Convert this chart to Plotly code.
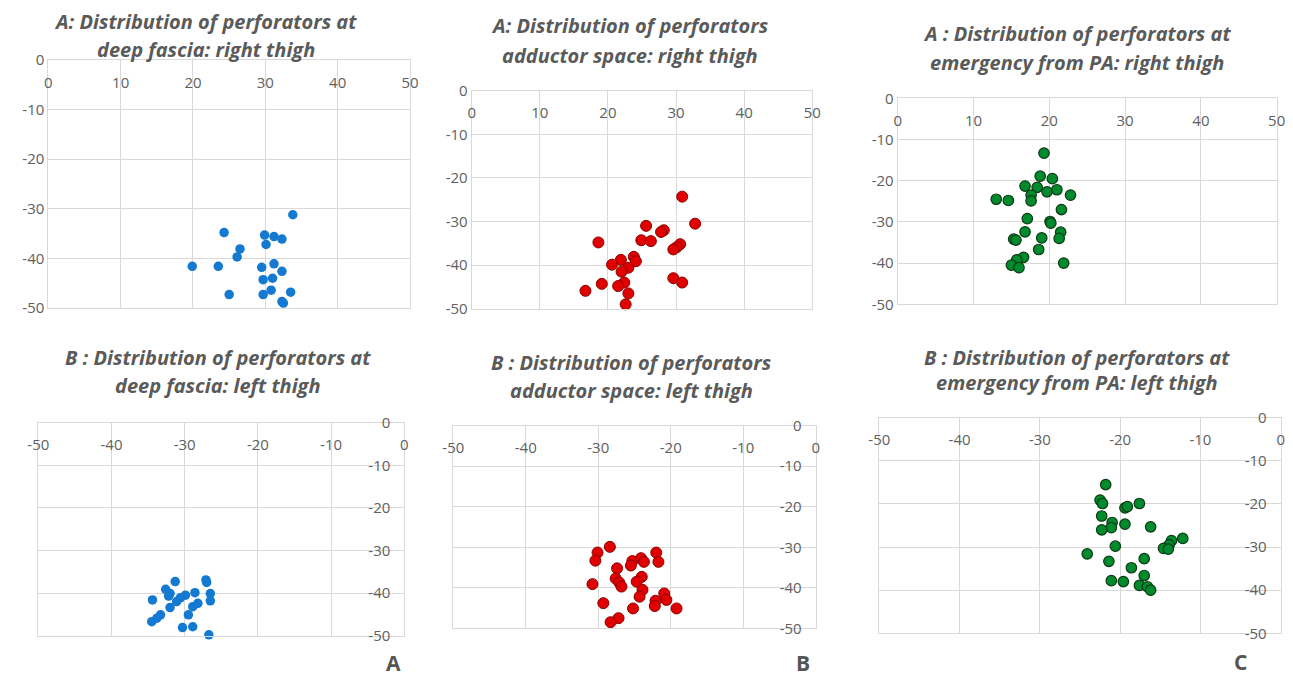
import plotly.graph_objects as go

# The page body keeps its default 8px margin, so the figure is drawn 8px
# smaller and every pixel position below is shifted by that offset.
PAGE_W, PAGE_H, OFF = 1293, 678, 8
W, H = PAGE_W - OFF, PAGE_H - OFF

# ---------------- data ----------------
# Deep fascia, right thigh (blue)
df_right_x = [33.8, 24.3, 29.9, 31.2, 32.3, 30.1, 26.5, 26.1, 19.9, 23.5, 29.5,
              31.2, 32.3, 29.7, 31.0, 30.8, 33.5, 25.0, 29.7, 32.3, 32.5]
df_right_y = [-31.2, -34.8, -35.3, -35.6, -36.1, -37.2, -38.1, -39.7, -41.6, -41.6, -41.8,
              -41.1, -42.6, -44.3, -44.0, -46.4, -46.8, -47.3, -47.3, -48.7, -49.0]

# Adductor space, right thigh (red)
ad_right_x = [30.9, 32.8, 25.6, 28.2, 27.8, 24.9, 26.3, 18.6, 30.6, 30.1, 29.6, 23.8, 24.1,
              21.9, 20.6, 23.0, 22.0, 29.6, 30.9, 19.1, 22.4, 21.5, 16.7, 23.0, 22.6]
ad_right_y = [-24.3, -30.5, -31.0, -32.0, -32.4, -34.3, -34.5, -34.8, -35.2, -35.9, -36.4, -38.1, -39.1,
              -38.8, -39.9, -40.6, -41.5, -43.0, -44.0, -44.3, -44.0, -44.8, -45.9, -46.5, -49.0]

# Emergency from PA, right thigh (green)
pa_right_x = [19.3, 18.8, 20.4, 16.8, 18.4, 19.7, 21.0, 22.8, 17.6, 17.6, 13.0, 14.6, 21.6, 17.1,
              20.1, 20.2, 16.8, 21.5, 21.3, 19.0, 15.3, 15.6, 18.6, 16.6, 15.7, 15.0, 16.0, 21.9]
pa_right_y = [-13.3, -18.9, -19.5, -21.3, -21.6, -22.7, -22.2, -23.5, -23.5, -24.9, -24.5, -24.8, -27.0, -29.2,
              -29.9, -30.3, -32.4, -32.5, -34.0, -33.9, -34.2, -34.4, -36.7, -38.6, -39.2, -40.5, -41.1, -40.0]

# Deep fascia, left thigh (blue)
df_left_x = [-27.1, -27.0, -31.3, -32.6, -32.0, -32.2, -28.6, -29.9, -30.6, -31.1, -26.5, -26.5,
             -28.2, -28.9, -32.0, -34.4, -29.5, -33.3, -33.8, -34.5, -30.3, -28.9, -26.7]
df_left_y = [-36.9, -37.5, -37.3, -39.1, -40.1, -40.7, -39.9, -40.5, -41.1, -42.0, -40.1, -41.8,
             -42.4, -43.2, -43.4, -41.6, -45.1, -45.1, -45.9, -46.7, -48.1, -47.9, -49.8]

# Adductor space, left thigh (red)
ad_left_x = [-28.4, -30.1, -30.4, -22.0, -21.7, -25.3, -25.5, -24.1, -23.7, -27.4, -27.6, -24.0, -24.7, -27.1,
             -30.8, -26.8, -23.9, -24.3, -20.9, -20.6, -22.1, -22.2, -19.2, -25.2, -29.3, -27.2, -28.3]
ad_left_y = [-29.9, -31.3, -33.3, -31.3, -33.6, -33.4, -34.5, -32.7, -33.6, -35.2, -37.7, -37.3, -38.5, -38.7,
             -39.1, -39.7, -40.5, -42.2, -41.4, -43.0, -43.2, -44.5, -45.1, -45.1, -43.8, -47.5, -48.5]

# Emergency from PA, left thigh (green)
pa_left_x = [-21.8, -22.5, -22.2, -19.4, -19.1, -17.6, -22.3, -21.0, -21.1, -19.4, -22.3, -16.2, -13.6, -12.2,
             -13.9, -14.6, -14.0, -20.6, -24.1, -21.4, -17.0, -18.6, -17.0, -21.1, -19.6, -17.6, -16.6, -16.2]
pa_left_y = [-15.5, -19.1, -19.9, -20.9, -20.6, -19.9, -22.8, -24.3, -25.5, -24.7, -26.0, -25.3, -28.5, -28.0,
             -29.5, -30.3, -30.5, -29.8, -31.6, -33.3, -32.7, -34.8, -36.6, -37.8, -38.0, -38.9, -39.2, -40.0]

titles = [
    ("A: Distribution of perforators at", "deep fascia: right thigh"),
    ("A: Distribution of perforators", "adductor space: right thigh"),
    ("A : Distribution of perforators at", "emergency from PA: right thigh"),
    ("B : Distribution of perforators at", "deep fascia: left thigh"),
    ("B : Distribution of perforators", "adductor space: left thigh"),
    ("B : Distribution of perforators at", "emergency from PA: left thigh"),
]
panel_letters = ["A", "B", "C"]

right_ticks = [0, 10, 20, 30, 40, 50]
left_ticks = [-50, -40, -30, -20, -10, 0]
y_ticks = [0, -10, -20, -30, -40, -50]


def labels(vals):
    return [str(v) for v in vals]  # plain hyphen minus like the original


# ---------------- styling / layout ----------------
# plot-area boxes in page pixels: (x0, x1, y_top, y_bottom)
boxes = [
    (48.3, 410.0, 60.0, 308.0),
    (471.7, 812.3, 90.7, 308.7),
    (897.7, 1276.7, 98.3, 304.3),
    (38.3, 404.3, 422.7, 635.7),
    (453.3, 815.7, 425.7, 628.3),
    (879.3, 1280.7, 417.7, 633.3),
]
title_pos = [
    ((205, 21), (206, 49)),
    ((630, 26), (630, 55)),
    ((1077, 34), (1077, 62)),
    ((218, 358), (218, 385)),
    ((631, 362), (631, 390)),
    ((1077, 357), (1077, 383)),
]
letter_pos = [(393, 663), (803, 663), (1240, 662)]


def px(x):
    return (x - OFF) / W


def py(y):
    return 1 - (y - OFF) / H


blue = dict(color="#1479d0", size=9.5, line=dict(width=0))
red = dict(color="#e00000", size=11, line=dict(width=1, color="#8a0000"))
green = dict(color="#008a2e", size=10.5, line=dict(width=1.2, color="#0c3a12"))

series = [
    (df_right_x, df_right_y, blue),
    (ad_right_x, ad_right_y, red),
    (pa_right_x, pa_right_y, green),
    (df_left_x, df_left_y, blue),
    (ad_left_x, ad_left_y, red),
    (pa_left_x, pa_left_y, green),
]

grid_c = "#d9d9d9"
tick_font = dict(family="Open Sans", size=15, color="#606060")
title_font = dict(family="Open Sans", size=20, color="#5a5a5a", weight="bold", style="italic")

fig = go.Figure()
layout = dict(
    width=W, height=H, margin=dict(l=0, r=0, t=0, b=0, autoexpand=False),
    paper_bgcolor="white", plot_bgcolor="white", showlegend=False,
    annotations=[],
)

for i, ((xs, ys, mk), box) in enumerate(zip(series, boxes)):
    n = i + 1
    xa = "x" if n == 1 else f"x{n}"
    ya = "y" if n == 1 else f"y{n}"
    fig.add_trace(go.Scatter(x=xs, y=ys, mode="markers", marker=mk,
                             xaxis=xa, yaxis=ya, cliponaxis=False, hoverinfo="skip"))
    x0, x1, yt, yb = box
    right_side = i < 3
    xt = right_ticks if right_side else left_ticks
    xkey = "xaxis" if n == 1 else f"xaxis{n}"
    ykey = "yaxis" if n == 1 else f"yaxis{n}"
    layout[xkey] = dict(
        domain=[px(x0), px(x1)], anchor=ya, automargin=False,
        range=[min(xt), max(xt)],
        tickmode="array", tickvals=xt, ticktext=labels(xt),
        side="top", ticklabelposition="inside",
        ticklabeloverflow="allow", ticklabelstandoff=17,
        ticks="", showgrid=True, gridcolor=grid_c, gridwidth=1,
        zeroline=False, showline=True, linecolor=grid_c, mirror="all",
        tickfont=tick_font, fixedrange=True,
    )
    layout[ykey] = dict(
        domain=[py(yb), py(yt)], anchor=xa, automargin=False,
        range=[min(y_ticks), max(y_ticks)],
        tickmode="array", tickvals=y_ticks, ticktext=labels(y_ticks),
        side="left" if right_side else "right",
        ticklabelposition="outside" if right_side else "inside",
        ticklabeloverflow="allow",
        ticklabelstandoff=0 if right_side else 14,
        ticks="", showgrid=True, gridcolor=grid_c, gridwidth=1,
        zeroline=False, showline=True, linecolor=grid_c, mirror="all",
        tickfont=tick_font, fixedrange=True,
    )
    (l1x, l1y), (l2x, l2y) = title_pos[i]
    t1, t2 = titles[i]
    for tx, ax, ay in ((t1, l1x, l1y), (t2, l2x, l2y)):
        layout["annotations"].append(dict(
            text=tx, x=px(ax), y=py(ay), xref="paper", yref="paper",
            xanchor="center", yanchor="middle", showarrow=False, font=title_font))

for letter, (ax, ay) in zip(panel_letters, letter_pos):
    layout["annotations"].append(dict(
        text=letter, x=px(ax), y=py(ay), xref="paper", yref="paper",
        xanchor="center", yanchor="middle", showarrow=False, borderpad=0,
        font=dict(family="Open Sans", size=21, color="#555555", weight="bold")))

fig.update_layout(template="none")
fig.update_layout(**layout)
fig.write_html("out.html")
